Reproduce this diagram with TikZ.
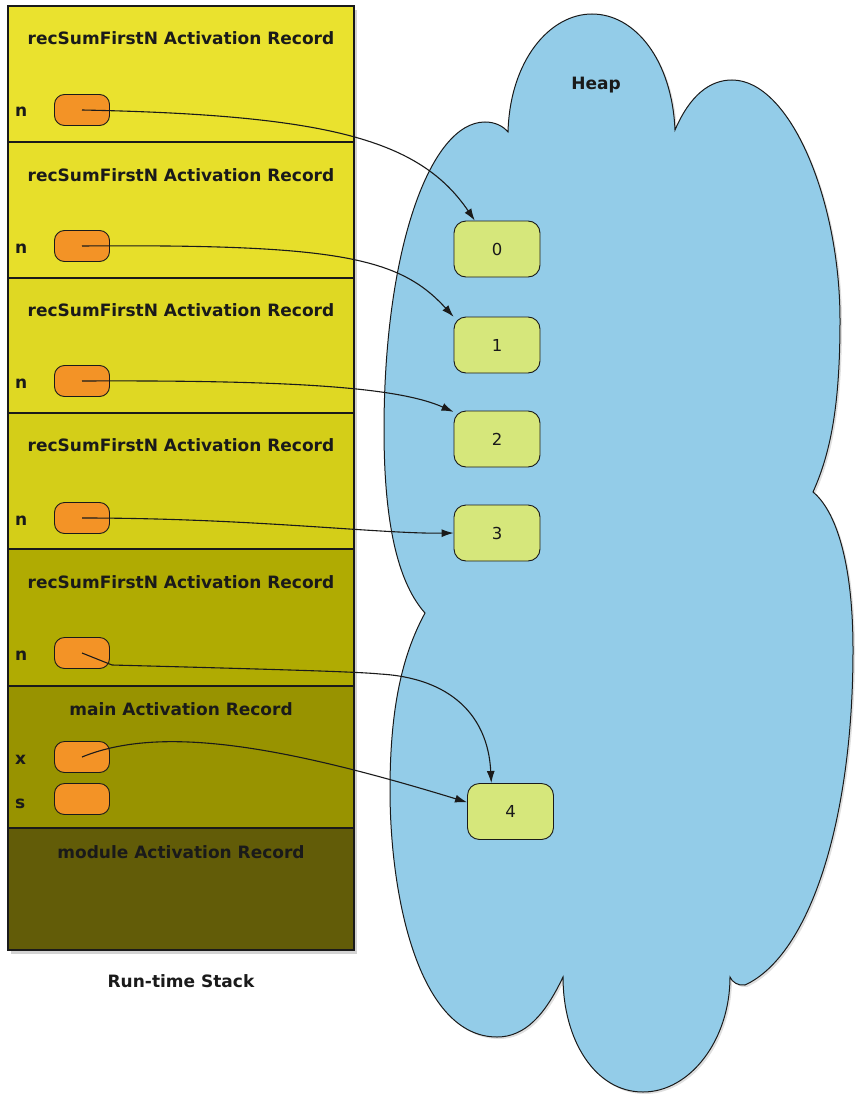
\documentclass[tikz,border=0pt]{standalone}
\usepackage{fontspec}
\setmainfont{DejaVu Sans}
\usetikzlibrary{arrows.meta,shadows}
\definecolor{secA}{HTML}{EAE22E}
\definecolor{secB}{HTML}{E7DF2A}
\definecolor{secC}{HTML}{DFD823}
\definecolor{secD}{HTML}{D4CE18}
\definecolor{secE}{HTML}{B0AB02}
\definecolor{secF}{HTML}{989300}
\definecolor{secG}{HTML}{625C08}
\definecolor{orangebox}{HTML}{F39326}
\definecolor{valfill}{HTML}{D6E77B}
\definecolor{cloudfill}{HTML}{93CCE8}
\definecolor{ink}{HTML}{1A1A1A}
\begin{document}
\begin{tikzpicture}[x=1pt,y=-1pt,
  lbl/.style={font=\fontsize{17}{20}\selectfont\bfseries, text=ink, inner sep=0pt},
  var/.style={draw=ink, line width=0.9pt, fill=orangebox, rounded corners=10pt,
    minimum width=55pt, minimum height=31pt, inner sep=0pt},
  val/.style={draw=ink, line width=0.9pt, fill=valfill, rounded corners=12pt,
    minimum width=86pt, minimum height=56pt, inner sep=0pt,
    font=\fontsize{16.5}{19}\selectfont, text=ink},
  ptr/.style={draw=ink, line width=1.1pt, -{Latex[length=12pt,width=8pt]}},
  divider/.style={draw=ink, line width=1.2pt},
]
\useasboundingbox (0,0) rectangle (855,1097);

% ---------- Heap cloud ----------
\filldraw[fill=cloudfill, draw=ink, line width=1pt,
  drop shadow={opacity=0.25, shadow xshift=2pt, shadow yshift=-2pt}]
  (508,132) .. controls (510,60) and (550,14) .. (592,14)
  .. controls (635,14) and (672,60) .. (675,130)
  .. controls (690,95) and (710,80) .. (732,80)
  .. controls (790,80) and (840,200) .. (840,320)
  .. controls (840,400) and (832,450) .. (813,492)
  .. controls (835,510) and (853,560) .. (853,650)
  .. controls (853,820) and (810,955) .. (745,985)
  .. controls (738,986) and (732,982) .. (730,977)
  .. controls (730,1040) and (690,1092) .. (643,1092)
  .. controls (595,1092) and (563,1040) .. (563,977)
  .. controls (545,1015) and (525,1037) .. (497,1037)
  .. controls (420,1037) and (390,900) .. (390,790)
  .. controls (390,700) and (405,650) .. (425,613)
  .. controls (400,585) and (384,530) .. (384,430)
  .. controls (384,250) and (430,122) .. (485,122)
  .. controls (495,122) and (503,126) .. (508,132)
  -- cycle;
\node[lbl, anchor=base] (heap) at (596,90) {Heap};

% ---------- Run-time stack ----------
\path[fill=white, drop shadow={opacity=0.35, shadow xshift=3pt, shadow yshift=-4pt}]
  (8,6) rectangle (354,950);
\fill[secA] (8,6) rectangle (354,142);
\fill[secB] (8,142) rectangle (354,278);
\fill[secC] (8,278) rectangle (354,413);
\fill[secD] (8,413) rectangle (354,549);
\fill[secE] (8,549) rectangle (354,686);
\fill[secF] (8,686) rectangle (354,828);
\fill[secG] (8,828) rectangle (354,950);
\foreach \yy in {142,278,413,549,686,828} \draw[divider] (8,\yy) -- (354,\yy);
\draw[ink, line width=1.3pt] (8,6) rectangle (354,950);

\node[lbl, anchor=base] (t1) at (181,45) {recSumFirstN Activation Record};
\node[lbl, anchor=base] (t2) at (181,181) {recSumFirstN Activation Record};
\node[lbl, anchor=base] (t3) at (181,316) {recSumFirstN Activation Record};
\node[lbl, anchor=base] (t4) at (181,451) {recSumFirstN Activation Record};
\node[lbl, anchor=base] (t5) at (181,588) {recSumFirstN Activation Record};
\node[lbl, anchor=base] (t6) at (181,715) {main Activation Record};
\node[lbl, anchor=base] (t7) at (181,858) {module Activation Record};
\node[lbl, anchor=base] (stk) at (181,987) {Run-time Stack};

% variable slots
\node[var] (n1) at (82,110) {};
\node[var] (n2) at (82,246) {};
\node[var] (n3) at (82,381) {};
\node[var] (n4) at (82,518) {};
\node[var] (n5) at (82,653) {};
\node[var] (nx) at (82,757) {};
\node[var] (ns) at (82,799) {};
\node[lbl, anchor=base west] (l1) at (15,117) {n};
\node[lbl, anchor=base west] (l2) at (15,253) {n};
\node[lbl, anchor=base west] (l3) at (15,388) {n};
\node[lbl, anchor=base west] (l4) at (15,525) {n};
\node[lbl, anchor=base west] (l5) at (15,660) {n};
\node[lbl, anchor=base west] (lx) at (15,764) {x};
\node[lbl, anchor=base west] (ls) at (15,808) {s};

% heap values
\node[val] (b0) at (497,249) {0};
\node[val] (b1) at (497,345) {1};
\node[val] (b2) at (497,439) {2};
\node[val] (b3) at (497,533) {3};
\node[val] (b4) at (510.5,811.5) {4};

% references
\draw[ptr] (n1.center) .. controls (330,115) and (420,140) .. (b0.128);
\draw[ptr] (n2.center) .. controls (340,244) and (400,258) .. (b1.147);
\draw[ptr] (n3.center) .. controls (300,380) and (400,388) .. (b2.148);
\draw[ptr] (n4.center) .. controls (250,518) and (380,534) .. (b3.west);
\draw[ptr] (n5.center) -- (112,665) .. controls (300,670) and (360,672) .. (380,674)
  .. controls (450,678) and (488,715) .. (b4.124);
\draw[ptr] (nx.center) .. controls (160,725) and (280,745) .. (b4.168);
\end{tikzpicture}
\end{document}
